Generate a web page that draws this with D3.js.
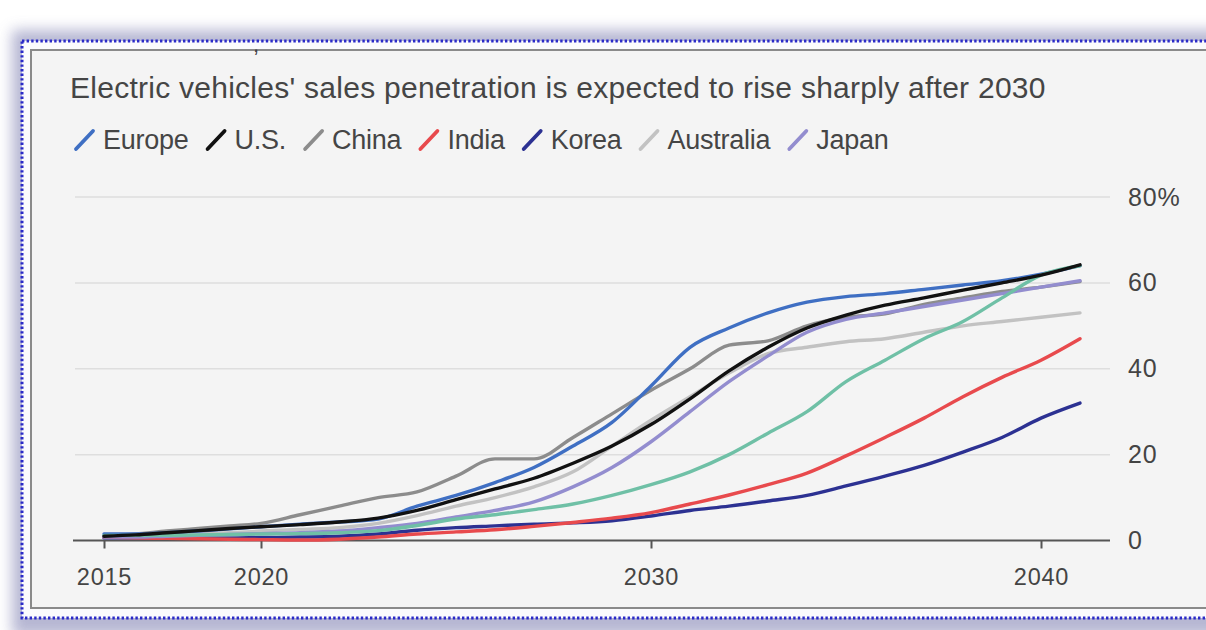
<!DOCTYPE html>
<html>
<head>
<meta charset="utf-8">
<script src="https://cdn.jsdelivr.net/npm/d3@7"></script>
<style>
  html, body { margin: 0; padding: 0; background: #ffffff; }
  svg { display: block; }
  text { font-family: "Liberation Sans", Arial, Helvetica, sans-serif; }
</style>
</head>
<body>
<svg id="chart" width="1206" height="630"></svg>
<script>
// ---- data -------------------------------------------------------------
const years = d3.range(2015, 2042);

const europe    = [1.5,1.5,1.8,2.2,2.7,3.2,3.8,4.3,5.0,8.0,10.5,13.5,17.0,22.0,27.5,36.0,45.0,49.5,53.0,55.5,56.8,57.5,58.5,59.5,60.5,62.0,64.0];
const us        = [1.0,1.3,1.8,2.3,2.8,3.2,3.7,4.3,5.2,7.0,9.5,12.0,14.5,18.0,22.0,27.0,33.0,39.5,45.0,49.5,52.5,54.8,56.5,58.3,60.0,61.8,64.2];
const china     = [1.0,1.5,2.2,2.8,3.4,4.0,6.0,8.0,10.0,11.3,15.0,19.0,19.0,24.0,29.5,35.0,40.0,45.5,46.5,50.0,52.0,52.8,55.0,56.5,58.0,59.0,60.3];
const india     = [0.8,0.6,0.5,0.4,0.3,0.2,0.1,0.3,0.8,1.5,2.0,2.5,3.3,4.2,5.2,6.5,8.5,10.6,13.0,15.7,19.7,24.0,28.5,33.5,38.0,42.0,47.0];
const korea     = [0.6,0.6,0.6,0.6,0.6,0.7,0.8,1.0,1.5,2.4,3.0,3.4,3.8,4.1,4.6,5.7,7.0,8.0,9.2,10.5,12.7,15.0,17.5,20.6,24.0,28.5,32.0];
const australia = [1.0,1.0,1.2,1.5,1.8,2.2,2.6,3.0,4.0,5.8,8.0,10.0,12.5,16.0,22.0,28.0,33.5,39.0,43.5,45.0,46.3,47.0,48.5,50.0,51.0,52.0,53.0];
const japan     = [0.8,0.8,1.0,1.2,1.4,1.6,1.8,2.2,3.0,4.0,5.5,7.0,9.0,12.5,17.0,23.0,30.0,37.0,43.0,48.5,51.5,53.0,54.5,56.0,57.5,59.0,60.5];
const other     = [1.2,1.2,1.2,1.3,1.4,1.5,1.6,1.8,2.3,3.5,5.0,6.0,7.2,8.5,10.5,13.0,16.0,20.0,25.0,30.0,37.0,42.0,47.0,51.0,56.5,61.8,64.0];

const seriesNames  = ["Australia","China","Korea","India","Japan","Europe","Other","U.S."];
const seriesValues = [australia, china, korea, india, japan, europe, other, us];
const seriesColors = ["#c2c2c2","#8c8c8c","#2c3192","#e84a4d","#938dcf","#3f6fc3","#6fc0a6","#111111"];

const legendNames  = ["Europe","U.S.","China","India","Korea","Australia","Japan"];
const legendColors = ["#3f6fc3","#111111","#8c8c8c","#e84a4d","#2c3192","#c2c2c2","#938dcf"];

const xTicks = [2015, 2020, 2030, 2040];
const yTicks = [0, 20, 40, 60, 80];

const titleText = "Electric vehicles' sales penetration is expected to rise sharply after 2030";

// ---- layout -----------------------------------------------------------
const svg = d3.select("#chart");
const defs = svg.append("defs");

const shadow = defs.append("filter").attr("id", "frameShadow")
  .attr("x", "-10%").attr("y", "-20%").attr("width", "120%").attr("height", "140%");
shadow.append("feGaussianBlur").attr("stdDeviation", 7);

// soft bluish halo around the framed panel
svg.append("rect")
  .attr("x", 12).attr("y", 30).attr("width", 1230).attr("height", 606)
  .attr("fill", "#a4a5c8").attr("opacity", 0.8)
  .attr("filter", "url(#frameShadow)");

// white band between dotted border and panel
svg.append("rect")
  .attr("x", 22).attr("y", 41).attr("width", 1200).attr("height", 577)
  .attr("fill", "#fbfbfd");

// dotted outer border
svg.append("rect")
  .attr("x", 22).attr("y", 41).attr("width", 1200).attr("height", 577)
  .attr("fill", "none")
  .attr("stroke", "#2a2ac8").attr("stroke-width", 3)
  .attr("stroke-dasharray", "2.4 2.2");

// inner panel
svg.append("rect")
  .attr("x", 31).attr("y", 50).attr("width", 1200).attr("height", 558)
  .attr("fill", "#f4f4f4")
  .attr("stroke", "#8a8a8a").attr("stroke-width", 2);

// clipped descender from a line above the title
svg.append("text")
  .attr("x", 253).attr("y", 52)
  .attr("font-size", 22).attr("fill", "#444")
  .text(",");

// ---- title & legend ---------------------------------------------------
svg.append("text")
  .attr("x", 70).attr("y", 98)
  .attr("font-size", 30).attr("fill", "#454545")
  .attr("letter-spacing", 0.26)
  .text(titleText);

const legend = svg.append("g").attr("transform", "translate(76,149)");
let lx = 0;
legendNames.forEach((name, i) => {
  const g = legend.append("g").attr("transform", `translate(${lx},0)`);
  g.append("line")
    .attr("x1", 0).attr("y1", 0).attr("x2", 17).attr("y2", -18)
    .attr("stroke", legendColors[i]).attr("stroke-width", 3.8)
    .attr("stroke-linecap", "round");
  const t = g.append("text")
    .attr("x", 27).attr("y", 0)
    .attr("font-size", 27).attr("fill", "#454545")
    .attr("letter-spacing", -0.25)
    .text(name);
  lx += 27 + t.node().getComputedTextLength() + 19;
});

// ---- scales -----------------------------------------------------------
const x = d3.scaleLinear().domain([2015, 2020, 2040]).range([104, 261, 1041]);
const y = d3.scaleLinear().domain([0, 80]).range([540.5, 197]);

// horizontal grid
svg.append("g")
  .selectAll("line")
  .data(yTicks.filter(d => d > 0))
  .join("line")
  .attr("x1", 75).attr("x2", 1110)
  .attr("y1", d => y(d)).attr("y2", d => y(d))
  .attr("stroke", "#dedede").attr("stroke-width", 1.5);

// x axis
const xAxis = svg.append("g")
  .attr("transform", `translate(0,${y(0)})`)
  .call(d3.axisBottom(x).tickValues(xTicks).tickFormat(d3.format("d")).tickSize(8).tickPadding(20));
xAxis.select(".domain").remove();
xAxis.selectAll(".tick line").attr("stroke", "#555").attr("stroke-width", 2);
xAxis.selectAll(".tick text")
  .attr("font-size", 23.5).attr("fill", "#444")
  .attr("letter-spacing", 0.8)
  .attr("font-family", "'Liberation Sans', Arial, sans-serif");
xAxis.append("line")
  .attr("x1", 73).attr("x2", 1110).attr("y1", 0).attr("y2", 0)
  .attr("stroke", "#555").attr("stroke-width", 2);

// y axis on the right
const yAxis = svg.append("g")
  .attr("transform", "translate(1110,0)")
  .call(d3.axisRight(y).tickValues(yTicks)
    .tickFormat(d => d === 80 ? d + "%" : d)
    .tickSize(0).tickPadding(18));
yAxis.select(".domain").remove();
yAxis.selectAll(".tick text")
  .attr("font-size", 25).attr("fill", "#444")
  .attr("letter-spacing", 0.8)
  .attr("font-family", "'Liberation Sans', Arial, sans-serif");

// ---- lines ------------------------------------------------------------
const line = d3.line()
  .x((d, i) => x(years[i]))
  .y(d => y(d))
  .curve(d3.curveMonotoneX);

svg.append("g")
  .selectAll("path")
  .data(seriesValues)
  .join("path")
  .attr("d", d => line(d))
  .attr("fill", "none")
  .attr("stroke", (d, i) => seriesColors[i])
  .attr("stroke-width", 3.4)
  .attr("stroke-linejoin", "round")
  .attr("stroke-linecap", "round");
</script>
</body>
</html>
